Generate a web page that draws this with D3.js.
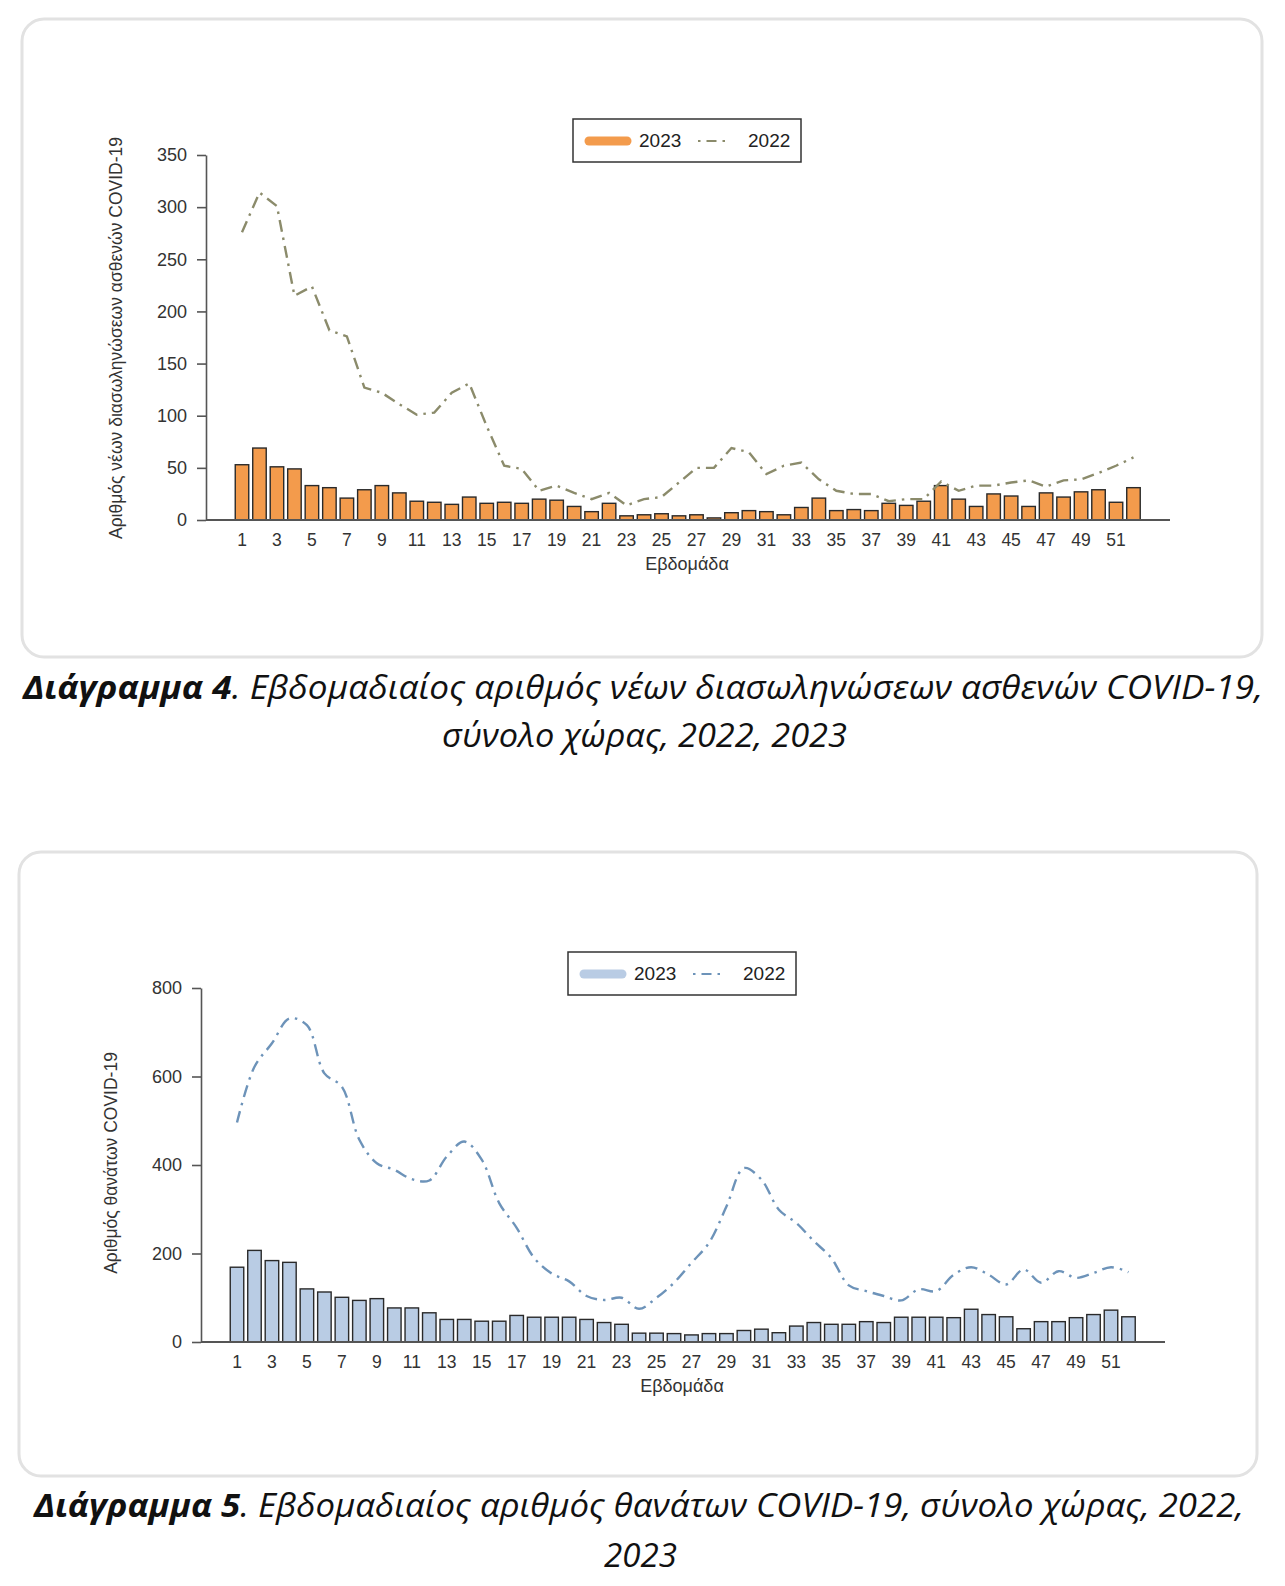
<!DOCTYPE html>
<html>
<head>
<meta charset="utf-8">
<script src="https://cdn.jsdelivr.net/npm/d3@7"></script>
<style>
  body { margin: 0; background: #fff; }
  svg { display: block; }
</style>
</head>
<body>
<script>
// weekly data
var weeks = [1,2,3,4,5,6,7,8,9,10,11,12,13,14,15,16,17,18,19,20,21,22,23,24,25,26,
             27,28,29,30,31,32,33,34,35,36,37,38,39,40,41,42,43,44,45,46,47,48,49,50,51,52];
var weekTicks = [1,3,5,7,9,11,13,15,17,19,21,23,25,27,29,31,33,35,37,39,41,43,45,47,49,51];

var intub2023 = [53,69,51,49,33,31,21,29,33,26,18,17,15,22,16,17,16,20,19,13,8,16,4,5,6,4,
                 5,2,7,9,8,5,12,21,9,10,9,16,14,18,33,20,13,25,23,13,26,22,27,29,17,31];
var intub2022 = [276,314,301,215,224,182,176,127,122,111,101,103,122,131,90,52,49,28,33,26,20,26,14,20,22,36,
                 50,50,69,65,44,52,55,39,28,25,25,18,20,20,37,28,33,33,36,38,32,38,39,45,52,60];
var intubTicks = [0,50,100,150,200,250,300,350];

var deaths2023 = [169,207,184,180,120,113,101,94,98,77,77,66,51,51,47,47,60,56,56,56,51,44,40,20,20,19,
                  16,19,19,26,29,21,36,44,40,40,46,44,56,56,56,55,74,62,57,30,46,46,55,62,72,57];
var deaths2022 = [496,622,675,731,716,607,577,457,404,389,368,365,419,453,412,314,258,190,155,137,104,95,100,75,100,134,
                  179,224,306,393,367,299,269,228,190,128,115,104,94,119,115,152,169,152,130,164,134,160,145,156,169,158];
var deathTicks = [0,200,400,600,800];

var legendLabels = ["2023", "2022"];
var xTitle = "Εβδομάδα";

const W = 1285, H = 1586;
const svg = d3.select("body").append("svg").attr("width", W).attr("height", H);
const FONT = "Liberation Sans, Arial, sans-serif";

function drawChart(o) {
    // card
    svg.append("rect")
        .attr("x", o.card[0]).attr("y", o.card[1])
        .attr("width", o.card[2]).attr("height", o.card[3])
        .attr("rx", 22).attr("ry", 22)
        .style("fill", "#fff").style("stroke", "#e2e2e2").style("stroke-width", 3);

    var x = d3.scaleLinear().domain([1, 51]).range([o.x0, o.x51]);
    var y = d3.scaleLinear().domain([0, o.ymax]).range([o.yBase, o.yTop]);
    var bw = 13.5;

    var g = svg.append("g");

    // bars 2023
    g.selectAll(".bar")
        .data(weeks)
        .enter()
        .append("rect")
        .attr("x", (d) => x(d) - bw / 2)
        .attr("y", (d, i) => y(o.bars[i]))
        .attr("width", bw)
        .attr("height", (d, i) => y(0) - y(o.bars[i]))
        .style("fill", o.barColor)
        .style("stroke", "#2a2a2a")
        .style("stroke-width", 1.4);

    // 2022 line
    var line = d3.line()
        .x((d) => x(d))
        .y((d, i) => y(o.line[i]))
        .curve(o.curve);
    g.append("path")
        .datum(weeks)
        .attr("d", line)
        .style("fill", "none")
        .style("stroke", o.lineColor)
        .style("stroke-width", 2.4)
        .style("stroke-dasharray", "12,6,2.5,6");

    // y axis
    var ya = g.append("g")
        .attr("transform", `translate(${o.axisX},0)`)
        .call(d3.axisLeft(y).tickValues(o.yticks).tickSize(9).tickPadding(10).tickSizeOuter(0));
    ya.select(".domain").style("stroke", "#555").style("stroke-width", 1.6);
    ya.selectAll(".tick line").style("stroke", "#555").style("stroke-width", 1.6);
    ya.selectAll("text")
        .style("font-family", FONT)
        .style("font-size", "18px").style("fill", "#333");

    // x axis (baseline and odd week labels)
    g.append("line")
        .attr("x1", o.axisX).attr("x2", o.axisEnd)
        .attr("y1", o.yBase).attr("y2", o.yBase)
        .style("stroke", "#555").style("stroke-width", 1.8);
    g.selectAll(".xl")
        .data(weekTicks)
        .enter()
        .append("text")
        .attr("x", (d) => x(d))
        .attr("y", o.yBase + 26)
        .style("text-anchor", "middle")
        .style("font-family", FONT)
        .style("font-size", "17.5px").style("fill", "#333")
        .text((d) => d);

    g.append("text")
        .attr("x", (o.x0 + o.x51) / 2 + 8)
        .attr("y", o.yBase + 50)
        .style("text-anchor", "middle")
        .style("font-family", FONT)
        .style("font-size", "18px").style("fill", "#333")
        .text(xTitle);

    g.append("text")
        .attr("transform", `translate(${o.ylabX},${o.ylabY}) rotate(-90)`)
        .style("text-anchor", "middle")
        .style("font-family", FONT)
        .style("font-size", "17.5px").style("fill", "#333")
        .text(o.ylab);

    // legend
    var lx = o.legend[0], ly = o.legend[1];
    var lg = g.append("g").attr("transform", `translate(${lx},${ly})`);
    lg.append("rect").attr("width", 228).attr("height", 43)
        .style("fill", "#fff").style("stroke", "#333").style("stroke-width", 1.5);
    lg.append("line").attr("x1", 16).attr("x2", 54).attr("y1", 22).attr("y2", 22)
        .style("stroke", o.barColor).style("stroke-width", 9).style("stroke-linecap", "round");
    lg.append("line").attr("x1", 125).attr("x2", 158).attr("y1", 22).attr("y2", 22)
        .style("stroke", o.lineColor).style("stroke-width", 2.2).style("stroke-dasharray", "2.5,6,10,6");
    lg.selectAll(".lt")
        .data(legendLabels)
        .enter()
        .append("text")
        .attr("x", (d, i) => i == 0 ? 66 : 175)
        .attr("y", 28)
        .style("font-family", FONT)
        .style("font-size", "19px").style("fill", "#222")
        .text((d) => d);

    // caption
    o.caption.forEach(function (c) {
        var t = svg.append("text")
            .attr("x", c.x).attr("y", c.y)
            .attr("textLength", c.len).attr("lengthAdjust", "spacingAndGlyphs")
            .style("font-family", "Open Sans, sans-serif")
            .style("font-style", "italic")
            .style("font-size", "33px").style("fill", "#111");
        if (c.bold) t.append("tspan").style("font-weight", "bold").text(c.bold);
        t.append("tspan").text(c.text);
    });
}

drawChart({
    card: [22, 19, 1240, 638],
    x0: 242, x51: 1116, axisX: 206, axisEnd: 1170,
    yBase: 520, yTop: 155, ymax: 350, yticks: intubTicks,
    bars: intub2023, line: intub2022,
    barColor: "#f39b4c", lineColor: "#8b8b6b", curve: d3.curveLinear,
    ylab: "Αριθμός νέων διασωληνώσεων ασθενών COVID-19", ylabX: 122, ylabY: 338,
    legend: [573, 119],
    caption: [
        {x: 23, y: 699, len: 1240, bold: "Διάγραμμα 4", text: ". Εβδομαδιαίος αριθμός νέων διασωληνώσεων ασθενών COVID-19,"},
        {x: 442, y: 747, len: 405, bold: "", text: "σύνολο χώρας, 2022, 2023"}
    ]
});

drawChart({
    card: [19, 852, 1238, 624],
    x0: 237, x51: 1111, axisX: 201, axisEnd: 1165,
    yBase: 1342, yTop: 988, ymax: 800, yticks: deathTicks,
    bars: deaths2023, line: deaths2022,
    barColor: "#b9cce4", lineColor: "#6d93b9", curve: d3.curveCatmullRom,
    ylab: "Αριθμός θανάτων COVID-19", ylabX: 117, ylabY: 1163,
    legend: [568, 952],
    caption: [
        {x: 34, y: 1517, len: 1210, bold: "Διάγραμμα 5", text: ". Εβδομαδιαίος αριθμός θανάτων COVID-19, σύνολο χώρας, 2022,"},
        {x: 604, y: 1567, len: 73, bold: "", text: "2023"}
    ]
});
</script>
</body>
</html>
